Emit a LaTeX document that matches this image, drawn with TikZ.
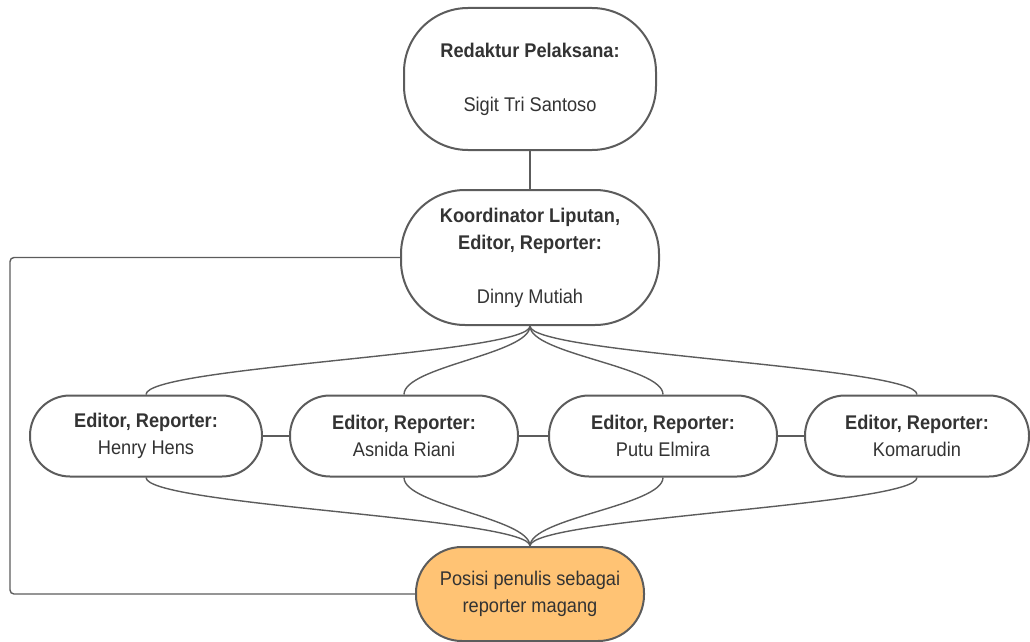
\documentclass[tikz,border=0pt]{standalone}
\usepackage{fontspec}
\setmainfont[FakeStretch=0.92]{Liberation Sans}
\usetikzlibrary{positioning}
\definecolor{edge}{HTML}{5C5C5C}
\definecolor{ink}{HTML}{333333}
\definecolor{magang}{HTML}{FFC374}

\begin{document}
\begin{tikzpicture}
[
  x=1pt,
  y=-1pt,
  font=\fontsize{19.8}{27}\selectfont,
	lead/.style={draw=edge,line width=2pt,fill=white,rounded corners=64pt,align=center,text=ink,inner sep=0pt},
	staff/.style={draw=edge,line width=2pt,fill=white,rounded corners=40pt,minimum height=81pt,align=center,text=ink,inner sep=0pt},
	intern/.style={draw=edge,line width=2pt,fill=magang,rounded corners=46pt,minimum width=228pt,minimum height=94pt,align=center,text=ink,inner sep=0pt},
	link/.style={draw=edge,line width=1.4pt}
]
\useasboundingbox (0,0) rectangle (1030,642);

% heads
\node[lead,minimum width=252pt,minimum height=142pt] (redaktur) at (530,79) {\textbf{Redaktur Pelaksana:}\\ \\ Sigit Tri Santoso};
\node[lead,minimum width=258pt,minimum height=135pt] (koord) at (530,257.5) {\textbf{Koordinator Liputan,}\\ \textbf{Editor, Reporter:}\\ \\ Dinny Mutiah};

% editors
\node[staff,minimum width=232pt] (henry) at (146,436) {\textbf{Editor, Reporter:}\\ Henry Hens};
\node[staff,minimum width=228pt] (asnida) at (404,436) {\textbf{Editor, Reporter:}\\ Asnida Riani};
\node[staff,minimum width=228pt] (putu) at (663,436) {\textbf{Editor, Reporter:}\\ Putu Elmira};
\node[staff,minimum width=224pt] (komar) at (917,436) {\textbf{Editor, Reporter:}\\ Komarudin};

% writer
\node[intern] (posisi) at (530,594) {Posisi penulis sebagai\\ reporter magang};
\coordinate (rail) at (10,0);

% links
\draw[link] (redaktur.south) -- (koord.north);
\draw[link] (henry.east) -- (asnida.west);
\draw[link] (asnida.east) -- (putu.west);
\draw[link] (putu.east) -- (komar.west);
\foreach \ed in {henry,asnida,putu,komar}
{
  \draw[link] (koord.south) .. controls +(0,28) and +(0,-28) .. (\ed.north);
  \draw[link] (\ed.south) .. controls +(0,28) and +(0,-28) .. (posisi.north);
}
\draw[link,rounded corners=4pt] (koord.west) -| (rail |- posisi.west) -- (posisi.west);

\end{tikzpicture}
\end{document}
